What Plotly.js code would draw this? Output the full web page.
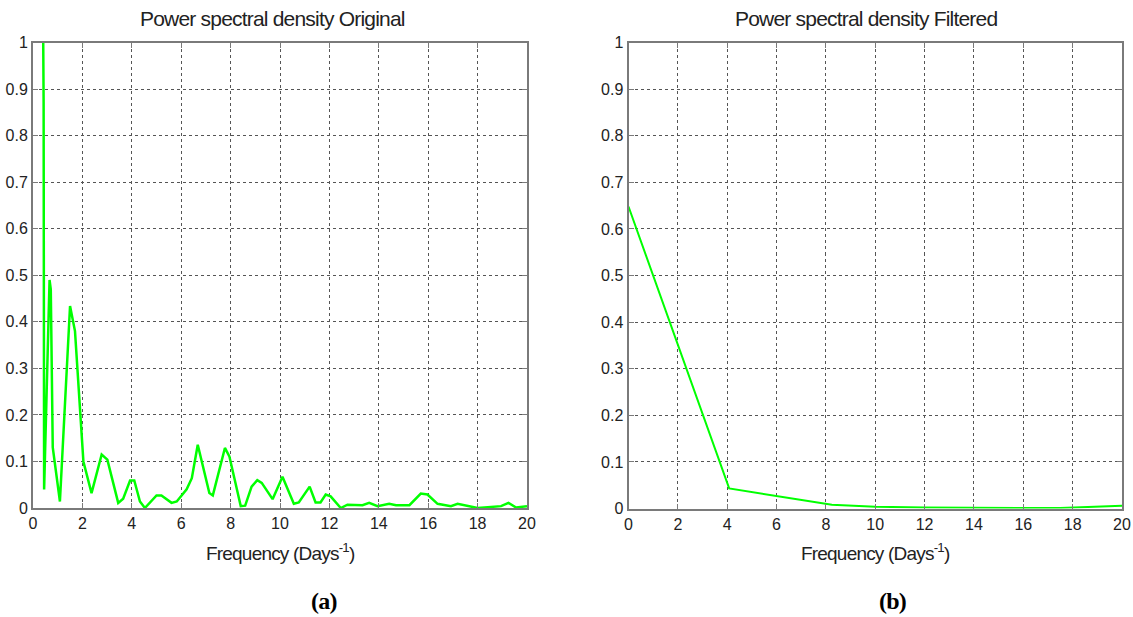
<!DOCTYPE html>
<html>
<head>
<meta charset="utf-8">
<script src="https://cdn.plot.ly/plotly-3.0.1.min.js"></script>
<style>
  html, body { margin: 0; padding: 0; background: #fff; }
  #chart { width: 1133px; height: 617px; }
  .annotation-text { letter-spacing: -0.8px; }
</style>
</head>
<body>
<div id="chart"></div>
<script>
// ---- Data ----
const freqOriginal = [0.39, 0.43, 0.45, 0.67, 0.72, 0.80, 1.09, 1.50, 1.70, 2.04, 2.37, 2.78, 3.01, 3.45, 3.65,
  3.93, 4.10, 4.33, 4.53, 5.00, 5.20, 5.61, 5.82, 6.22, 6.43, 6.67, 7.14, 7.28, 7.77, 7.95, 8.41, 8.59, 8.85,
  9.08, 9.26, 9.70, 10.10, 10.56, 10.76, 11.20, 11.44, 11.64, 11.85, 12.05, 12.46, 12.73, 13.34, 13.61, 13.95,
  14.42, 14.70, 15.24, 15.70, 15.97, 16.38, 16.92, 17.19, 17.53, 18.00, 18.95, 19.25, 19.56, 20.0];
const psdOriginal = [1.2, 0.87, 0.04, 0.49, 0.47, 0.13, 0.014, 0.434, 0.38, 0.10, 0.032, 0.115, 0.104, 0.011, 0.02,
  0.059, 0.059, 0.014, 0.0, 0.027, 0.027, 0.011, 0.014, 0.04, 0.064, 0.136, 0.032, 0.027, 0.129, 0.111, 0.004, 0.005, 0.046,
  0.06, 0.054, 0.019, 0.067, 0.009, 0.012, 0.046, 0.012, 0.012, 0.029, 0.025, 0.0, 0.007, 0.006, 0.011, 0.004,
  0.009, 0.006, 0.006, 0.031, 0.029, 0.009, 0.004, 0.009, 0.005, 0.0, 0.004, 0.011, 0.001, 0.004];

const freqFiltered = [0, 4.08, 8.24, 10, 12, 14, 16, 17.5, 18, 19.6, 20];
const psdFiltered = [0.648, 0.043, 0.008, 0.004, 0.002, 0.001, 0.001, 0.001, 0.002, 0.005, 0.006];

const xTicks = [0, 2, 4, 6, 8, 10, 12, 14, 16, 18, 20];
const yTicks = [0, 0.1, 0.2, 0.3, 0.4, 0.5, 0.6, 0.7, 0.8, 0.9, 1];

const titleLeft = 'Power spectral density Original';
const titleRight = 'Power spectral density Filtered';
const xLabel = 'Frequency (Days<sup>-1</sup>)';
const panelLabels = ['(a)', '(b)'];

// ---- Layout geometry ----
const W = 1133, H = 617;
const px = v => v / W;
const py = v => (H - v) / H;

const axisStyle = {
  showline: true, linecolor: '#7a7a7a', linewidth: 2, mirror: 'ticks',
  ticks: 'inside', ticklen: 5, tickwidth: 1, tickcolor: '#7a7a7a',
  showgrid: true, gridcolor: '#555', gridwidth: 1, griddash: 'dot',
  zeroline: false, fixedrange: true,
  tickfont: { family: 'Liberation Sans, Arial, sans-serif', size: 16, color: '#222' }
};

const traces = [
  { x: freqOriginal, y: psdOriginal, type: 'scatter', mode: 'lines', xaxis: 'x', yaxis: 'y',
    line: { color: '#00ff00', width: 2.5 }, hoverinfo: 'skip' },
  { x: freqFiltered, y: psdFiltered, type: 'scatter', mode: 'lines', xaxis: 'x2', yaxis: 'y2',
    line: { color: '#00ff00', width: 2 }, hoverinfo: 'skip' }
];

const fTitle = { family: 'Liberation Sans, Arial, sans-serif', size: 21, color: '#222' };
const fAxis = { family: 'Liberation Sans, Arial, sans-serif', size: 19, color: '#222' };
const fPanel = { family: 'Liberation Serif, Times New Roman, serif', size: 24, color: '#000', weight: 'bold' };

const layout = {
  width: W, height: H,
  margin: { l: 0, r: 0, t: 0, b: 0 },
  paper_bgcolor: '#fff', plot_bgcolor: '#fff',
  showlegend: false,
  xaxis: Object.assign({}, axisStyle, { domain: [px(33), px(527)], range: [0, 20], tickvals: xTicks, anchor: 'y' }),
  yaxis: Object.assign({}, axisStyle, { domain: [py(508), py(42.5)], range: [0, 1], tickvals: yTicks, anchor: 'x' }),
  xaxis2: Object.assign({}, axisStyle, { domain: [px(628.5), px(1122)], range: [0, 20], tickvals: xTicks, anchor: 'y2' }),
  yaxis2: Object.assign({}, axisStyle, { domain: [py(508.5), py(42.5)], range: [0, 1], tickvals: yTicks, anchor: 'x2' }),
  annotations: [
    { text: titleLeft, xref: 'paper', yref: 'paper', x: px(272), y: py(18), xanchor: 'center', yanchor: 'middle', showarrow: false, font: fTitle },
    { text: titleRight, xref: 'paper', yref: 'paper', x: px(866), y: py(18), xanchor: 'center', yanchor: 'middle', showarrow: false, font: fTitle },
    { text: xLabel, xref: 'paper', yref: 'paper', x: px(280), y: py(538), xanchor: 'center', yanchor: 'top', showarrow: false, font: fAxis },
    { text: xLabel, xref: 'paper', yref: 'paper', x: px(875), y: py(538), xanchor: 'center', yanchor: 'top', showarrow: false, font: fAxis },
    { text: panelLabels[0], xref: 'paper', yref: 'paper', x: px(324), y: py(601), xanchor: 'center', yanchor: 'middle', showarrow: false, font: fPanel },
    { text: panelLabels[1], xref: 'paper', yref: 'paper', x: px(892), y: py(601), xanchor: 'center', yanchor: 'middle', showarrow: false, font: fPanel }
  ]
};

Plotly.newPlot('chart', traces, layout, { staticPlot: true, displayModeBar: false });
</script>
</body>
</html>
